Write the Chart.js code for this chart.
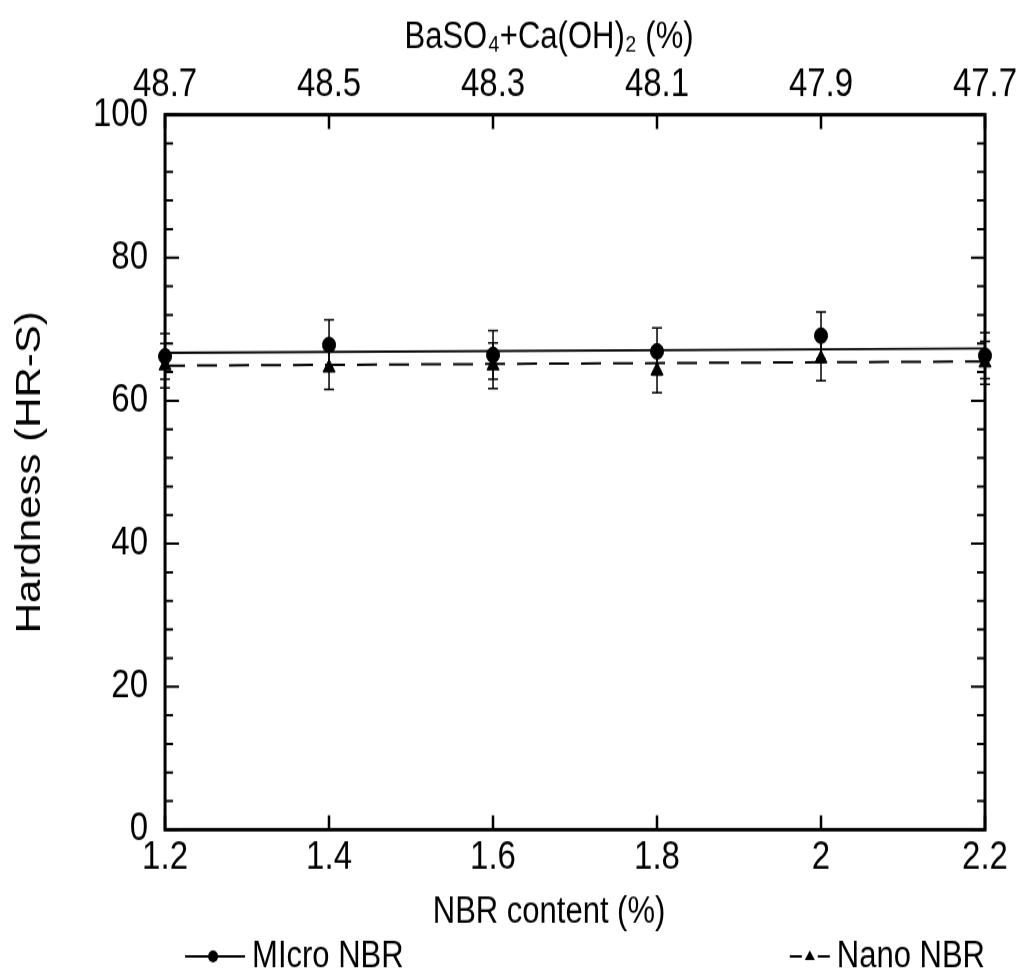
<!DOCTYPE html>
<html>
<head>
<meta charset="utf-8">
<script src="https://cdn.jsdelivr.net/npm/chart.js@4.4.0/dist/chart.umd.min.js"></script>
<style>
  html { margin: 0; padding: 0; overflow: hidden; background: #ffffff; }
  body { margin: 0; padding: 0; width: 1017px; height: 978px; background: #ffffff; }
  /* Originalbild ist vertikal gestreckt -> gleiche Streckung hier */
  #wrap { width: 1017px; height: 815px; transform: scaleY(1.2); transform-origin: 0 0; }
</style>
</head>
<body>
<div id="wrap"><canvas id="hardnessChart"></canvas></div>
<script>
// Daten
const nbrContent = [1.2, 1.4, 1.6, 1.8, 2.0, 2.2];
const bottomTickLabels = ['1.2', '1.4', '1.6', '1.8', '2', '2.2'];
const topTickLabels = ['48.7', '48.5', '48.3', '48.1', '47.9', '47.7'];

const microHardness = [66.2, 67.8, 66.4, 66.9, 69.1, 66.3];
const microError = [3.2, 3.5, 3.4, 3.3, 3.3, 3.2];
const nanoHardness = [64.9, 64.6, 64.9, 64.2, 65.9, 65.3];
const nanoError = [3.1, 3.0, 3.2, 3.1, 3.1, 3.0];

// Trendlinien (Endpunkte bei 1.2 und 2.2)
const fitX = [1.2, 2.2];
const microFit = [66.7, 67.3];
const nanoFit = [64.9, 65.5];

const FONT = "'Liberation Sans', Arial, sans-serif";

function pts(xs, ys) {
  return xs.map((x, i) => ({ x: x, y: ys[i] }));
}

// Rahmen + Ticks nach innen
const frameTicks = {
  id: 'frameTicks',
  afterDraw(chart) {
    const ctx = chart.ctx;
    const a = chart.chartArea;
    const x = chart.scales.x, y = chart.scales.y;
    ctx.save();
    ctx.strokeStyle = '#000';
    ctx.lineWidth = 2;
    // kleine + grosse y Ticks, links und rechts
    for (let v = 0; v <= 100; v += 4) {
      const py = y.getPixelForValue(v);
      const len = (v % 20 === 0) ? 14 : 8;
      ctx.beginPath();
      ctx.moveTo(a.left, py); ctx.lineTo(a.left + len, py);
      ctx.moveTo(a.right, py); ctx.lineTo(a.right - len, py);
      ctx.stroke();
    }
    ctx.lineWidth = 2.5;
    x.ticks.forEach(t => {
      const px = Math.round(x.getPixelForValue(t.value));
      ctx.beginPath();
      ctx.moveTo(px, a.bottom); ctx.lineTo(px, a.bottom - 12);
      ctx.moveTo(px, a.top); ctx.lineTo(px, a.top + 12);
      ctx.stroke();
    });
    ctx.lineWidth = 3;
    ctx.strokeRect(a.left, a.top, a.right - a.left, a.bottom - a.top);
    ctx.restore();
  }
};

// Achsentitel oben/unten (im Original etwas links von der Mitte)
const axisTitles = {
  id: 'axisTitles',
  afterDraw(chart) {
    const ctx = chart.ctx;
    const a = chart.chartArea;
    const cx = (a.left + a.right) / 2 - 26;
    ctx.save();
    ctx.fillStyle = '#000';
    ctx.font = '31px ' + FONT;
    ctx.textAlign = 'center';
    ctx.textBaseline = 'middle';
    ctx.fillText('BaSO₄+Ca(OH)₂ (%)', cx, 31);
    ctx.fillText('NBR content (%)', cx, 760);
    ctx.restore();
  }
};

// Fehlerbalken
const errorBars = {
  id: 'errorBars',
  afterDatasetsDraw(chart) {
    const ctx = chart.ctx;
    const x = chart.scales.x, y = chart.scales.y;
    ctx.save();
    ctx.strokeStyle = '#000';
    ctx.lineWidth = 1.5;
    chart.data.datasets.forEach(ds => {
      if (!ds.errors) return;
      ds.data.forEach((p, i) => {
        const px = x.getPixelForValue(p.x);
        const top = y.getPixelForValue(p.y + ds.errors[i]);
        const bot = y.getPixelForValue(p.y - ds.errors[i]);
        ctx.beginPath();
        ctx.moveTo(px, top); ctx.lineTo(px, bot);
        ctx.moveTo(px - 5, top); ctx.lineTo(px + 5, top);
        ctx.moveTo(px - 5, bot); ctx.lineTo(px + 5, bot);
        ctx.stroke();
      });
    });
    ctx.restore();
  }
};

// Legende unten
const bottomLegend = {
  id: 'bottomLegend',
  afterDraw(chart) {
    const ctx = chart.ctx;
    const a = chart.chartArea;
    const ly = 797;
    ctx.save();
    ctx.strokeStyle = '#000';
    ctx.fillStyle = '#000';
    ctx.lineWidth = 1.8;
    ctx.font = '31px ' + FONT;
    ctx.textBaseline = 'middle';
    // Micro
    const sx = a.left + 20;
    ctx.beginPath(); ctx.moveTo(sx, ly); ctx.lineTo(sx + 60, ly); ctx.stroke();
    ctx.beginPath(); ctx.arc(sx + 28, ly, 5, 0, Math.PI * 2); ctx.fill();
    ctx.textAlign = 'left';
    ctx.fillText('MIcro NBR', sx + 67, ly);
    // Nano
    ctx.textAlign = 'right';
    const tx = a.right;
    const tw = ctx.measureText('Nano NBR').width;
    const ex = tx - tw - 7;
    ctx.beginPath();
    ctx.moveTo(ex - 40, ly); ctx.lineTo(ex - 28, ly);
    ctx.moveTo(ex - 12, ly); ctx.lineTo(ex, ly);
    ctx.stroke();
    ctx.beginPath();
    ctx.moveTo(ex - 20, ly - 5); ctx.lineTo(ex - 15, ly + 3); ctx.lineTo(ex - 25, ly + 3);
    ctx.closePath(); ctx.fill();
    ctx.fillText('Nano NBR', tx, ly);
    ctx.restore();
  }
};

const tickFont = { family: FONT, size: 33 };
const noSidePadding = s => { s.paddingLeft = 0; s.paddingRight = 0; };

const ctx = document.getElementById('hardnessChart').getContext('2d');
const hardnessChart = new Chart(ctx, {
  type: 'scatter',
  data: {
    datasets: [
      {
        label: 'MIcro NBR',
        data: pts(nbrContent, microHardness),
        errors: microError,
        showLine: false,
        pointStyle: 'circle',
        pointRadius: 6.5,
        backgroundColor: '#000',
        borderColor: '#000',
        clip: false,
      },
      {
        label: 'Nano NBR',
        data: pts(nbrContent, nanoHardness),
        errors: nanoError,
        showLine: false,
        pointStyle: 'triangle',
        pointRadius: 7,
        backgroundColor: '#000',
        borderColor: '#000',
        clip: false,
      },
      {
        label: 'micro fit',
        data: pts(fitX, microFit),
        showLine: true,
        pointRadius: 0,
        borderColor: '#000',
        borderWidth: 1.8,
      },
      {
        label: 'nano fit',
        data: pts(fitX, nanoFit),
        showLine: true,
        pointRadius: 0,
        borderColor: '#000',
        borderWidth: 2,
        borderDash: [20, 12],
      },
    ],
  },
  options: {
    responsive: true,
    maintainAspectRatio: false,
    animation: false,
    layout: {
      padding: { top: 46, right: 32, bottom: 76, left: 9 },
    },
    plugins: {
      legend: { display: false },
      tooltip: { enabled: false },
    },
    scales: {
      x: {
        type: 'linear',
        position: 'bottom',
        min: 1.2,
        max: 2.2,
        afterFit: noSidePadding,
        ticks: {
          stepSize: 0.2,
          color: '#000',
          font: tickFont,
          padding: 4,
          maxRotation: 0,
          callback: (v, i) => bottomTickLabels[i],
        },
        grid: { display: false, drawTicks: false },
        border: { display: false },
      },
      x2: {
        type: 'linear',
        position: 'top',
        min: 1.2,
        max: 2.2,
        afterFit: noSidePadding,
        ticks: {
          stepSize: 0.2,
          color: '#000',
          font: tickFont,
          padding: 5,
          maxRotation: 0,
          callback: (v, i) => topTickLabels[i],
        },
        grid: { display: false, drawTicks: false },
        border: { display: false },
      },
      y: {
        min: 0,
        max: 100,
        ticks: {
          stepSize: 20,
          color: '#000',
          font: tickFont,
          padding: 17,
        },
        grid: { display: false, drawTicks: false },
        border: { display: false },
        title: {
          display: true,
          text: 'Hardness (HR-S)',
          color: '#000',
          font: { family: FONT, size: 35 },
          padding: { top: 0, bottom: 25 },
        },
      },
    },
  },
  plugins: [errorBars, frameTicks, axisTitles, bottomLegend],
});
</script>
</body>
</html>
